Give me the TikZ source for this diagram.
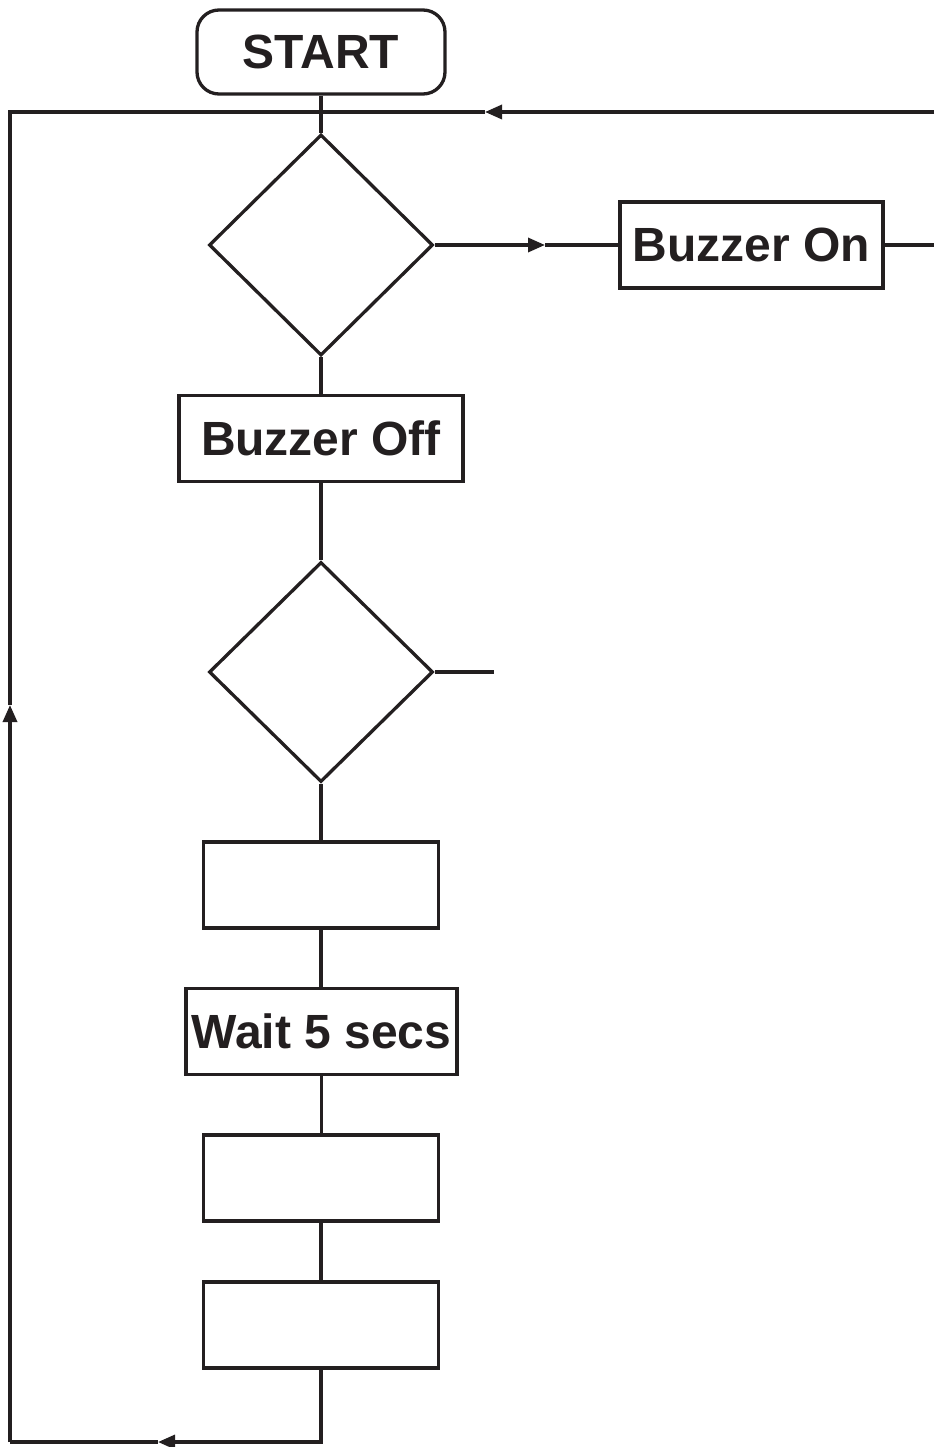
\documentclass[tikz,border=0pt]{standalone}
\usepackage{fontspec}
\setmainfont{Liberation Sans}
\usetikzlibrary{shapes.geometric,arrows.meta}
\definecolor{ink}{HTML}{231F20}
\begin{document}
\begin{tikzpicture}[x=1pt,y=-1pt,
  every node/.style={draw=ink,line width=3.3pt,text=ink,inner sep=0pt,
    font=\fontsize{48}{56}\selectfont\bfseries},
  stepbox/.style={rectangle,minimum height=86pt},
  decision/.style={diamond,minimum width=224pt,minimum height=221pt},
  link/.style={draw=ink,line width=3.3pt},
  tip/.style={-{Triangle[length=17pt,width=14pt]}}]
\useasboundingbox (0,0) rectangle (934,1447);
\node[rectangle,rounded corners=22pt,minimum width=248pt,minimum height=84pt] (start) at (321,52) {START};
\node[decision] (d1) at (321,245) {};
\node[stepbox,minimum width=263pt] (bon) at (751.5,245) {Buzzer On};
\node[stepbox,minimum width=284pt] (boff) at (321,438.5) {Buzzer Off};
\node[decision,minimum height=220pt] (d2) at (321,672) {};
\node[stepbox,minimum width=235pt] (e1) at (321,885) {};
\node[stepbox,minimum width=271pt] (wait) at (321.5,1031.5) {Wait 5 secs};
\node[stepbox,minimum width=235pt] (e2) at (321,1178) {};
\node[stepbox,minimum width=235pt] (e3) at (321,1325) {};
% coordinates
\coordinate (j) at (321,112);
\coordinate (topright) at (934,112);
\coordinate (toparrow) at (485,112);
\coordinate (onarrow) at (545,245);
\coordinate (onend) at (934,245);
\coordinate (d2end) at (494,672);
\coordinate (bl) at (10,1442);
\coordinate (botarrow) at (158,1442);
\coordinate (tl) at (10,112);
\coordinate (leftarrow) at (10,705);
% main chain
\draw[link] (start.south) -- (j) -- (d1.north);
\draw[link] (d1.south) -- (d1.south |- boff.north);
\draw[link] (boff.south) -- (boff.south |- d2.north);
\draw[link] (d2.south) -- (d2.south |- e1.north);
\draw[link] (e1.south) -- (e1.south |- wait.north);
\draw[link] (wait.south) -- (wait.south |- e2.north);
\draw[link] (e2.south) -- (e3.north);
% branches
\draw[link,tip] (d1.east) -- (onarrow);
\draw[link] (onarrow) -- (bon.west);
\draw[link] (bon.east) -- (onend);
\draw[link] (d2.east) -- (d2end);
\draw[link,tip] (topright) -- (toparrow);
\draw[link] (toparrow) -- (j);
% loop back
\draw[link,tip] (e3.south) |- (botarrow);
\draw[link] (botarrow) -- (bl);
\draw[link,tip] (bl) -- (leftarrow);
\draw[link] (leftarrow) -- (tl) -- (j);
\end{tikzpicture}
\end{document}
